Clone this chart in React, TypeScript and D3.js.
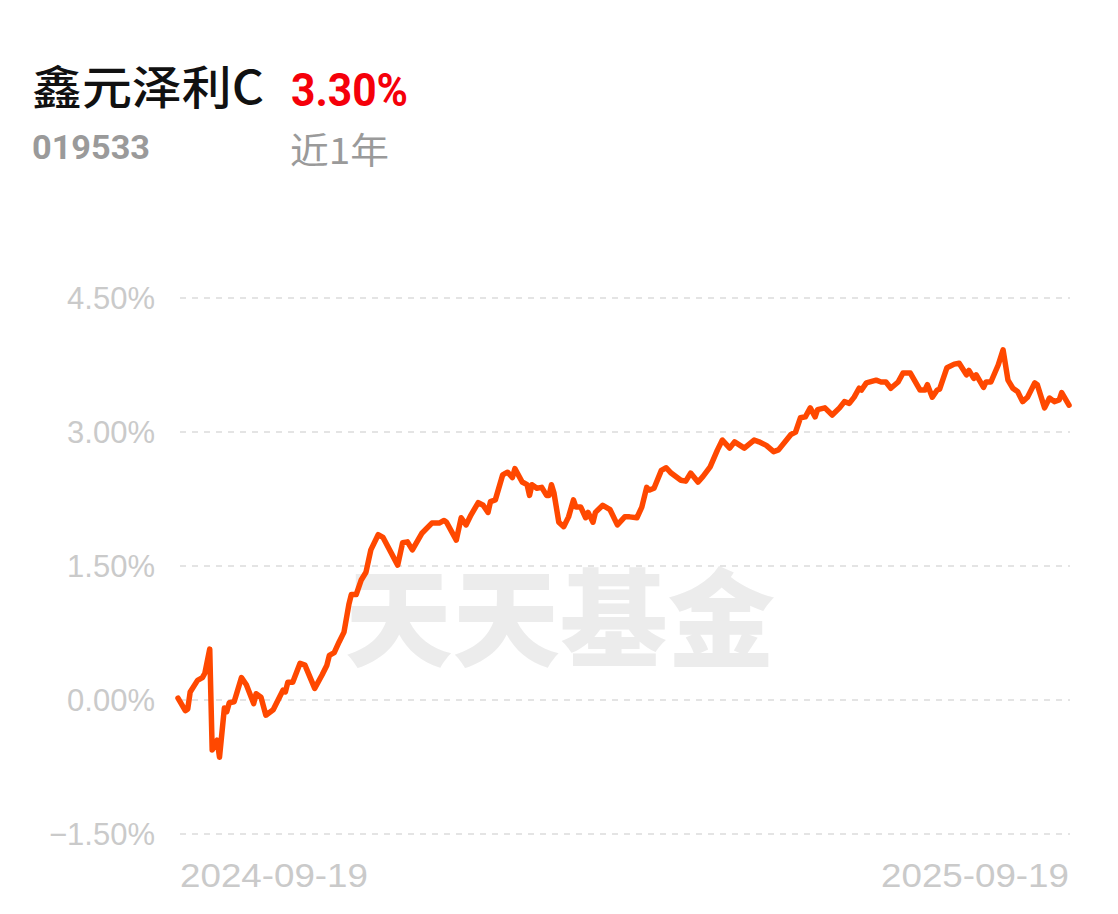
import React from "react";
import * as d3 from "d3";

const fundName = "鑫元泽利C";
const fundCode = "019533";
const periodReturn = "3.30%";
const periodLabel = "近1年";
const watermark = "天天基金";
const startDate = "2024-09-19";
const endDate = "2025-09-19";

const yTicks = [-1.5, 0, 1.5, 3, 4.5];

// day offsets from start date
const days = [
  0, 3, 4, 5, 8, 10, 11, 13, 14, 16, 17, 19, 20, 21, 23, 26, 28, 31, 32, 34, 36, 39,
  43, 44, 45, 47, 50, 52, 56, 59, 61, 62, 64, 66, 68, 70, 71, 73, 75, 77, 79, 82, 84,
  90, 92, 94, 96, 100, 104, 107, 109, 110, 114, 116, 118, 120, 123, 125, 127, 128, 130,
  133, 135, 137, 138, 141, 143, 144, 145, 147, 149, 151, 152, 153, 154, 156, 158, 160,
  162, 163, 165, 167, 168, 170, 171, 174, 177, 180, 183, 185, 188, 190, 192, 193, 195,
  198, 200, 202, 206, 208, 210, 213, 215, 218, 221, 223, 226, 228, 232, 236, 238, 241,
  244, 246, 251, 253, 255, 257, 259, 261, 262, 265, 268, 271, 273, 275, 277, 279, 280,
  282, 286, 288, 290, 292, 295, 297, 300, 304, 306, 307, 309, 311, 312, 315, 318, 320,
  323, 324, 326, 327, 330, 331, 333, 336, 338, 340, 342, 344, 346, 348, 351, 352, 355,
  357, 359, 361, 362, 365,
];

// cumulative return in %
const returns = [
  0.02, -0.12, -0.1, 0.09, 0.22, 0.25, 0.3, 0.57, -0.56, -0.45, -0.64, -0.09, -0.13,
  -0.03, -0.02, 0.25, 0.17, -0.04, 0.07, 0.03, -0.17, -0.11, 0.11, 0.09, 0.2, 0.2, 0.41,
  0.39, 0.13, 0.28, 0.39, 0.5, 0.53, 0.65, 0.76, 1.07, 1.18, 1.18, 1.34, 1.43, 1.68,
  1.85, 1.82, 1.51, 1.76, 1.77, 1.68, 1.87, 1.98, 1.98, 2.01, 1.99, 1.79, 2.04, 1.96,
  2.07, 2.21, 2.18, 2.1, 2.22, 2.24, 2.52, 2.55, 2.49, 2.59, 2.44, 2.41, 2.29, 2.41,
  2.37, 2.38, 2.29, 2.29, 2.41, 2.32, 1.99, 1.94, 2.05, 2.24, 2.16, 2.16, 2.04, 2.1,
  1.99, 2.1, 2.18, 2.13, 1.96, 2.05, 2.05, 2.04, 2.16, 2.38, 2.35, 2.37, 2.57, 2.6,
  2.54, 2.46, 2.45, 2.54, 2.44, 2.5, 2.61, 2.8, 2.91, 2.82, 2.89, 2.82, 2.91, 2.89,
  2.85, 2.78, 2.8, 2.97, 3.0, 3.16, 3.17, 3.27, 3.17, 3.25, 3.27, 3.19, 3.27, 3.34,
  3.32, 3.39, 3.49, 3.47, 3.55, 3.58, 3.56, 3.56, 3.49, 3.56, 3.66, 3.66, 3.47, 3.47,
  3.53, 3.39, 3.47, 3.48, 3.72, 3.76, 3.77, 3.64, 3.69, 3.6, 3.64, 3.5, 3.56, 3.56,
  3.75, 3.92, 3.58, 3.49, 3.45, 3.34, 3.39, 3.55, 3.53, 3.27, 3.38, 3.34, 3.36, 3.44,
  3.3,
];

const W = 1118;
const H = 914;

export default function App() {
  const x = d3.scaleLinear().domain([0, 365]).range([178, 1069]);
  const y = d3.scaleLinear().domain([-1.5, 4.5]).range([834, 298]);
  const pts = days.map((d, i) => [d, returns[i]] as [number, number]);
  const line = d3
    .line<[number, number]>()
    .x((d) => x(d[0]))
    .y((d) => y(d[1]))
    .curve(d3.curveLinear);

  const axisFont = "'Liberation Sans', Arial, sans-serif";
  const cjk = "'Noto Sans CJK SC', 'Noto Sans', sans-serif";

  return (
    <svg
      width={W}
      height={H}
      style={{ position: "absolute", left: 0, top: 0, background: "#fff" }}
    >
      <rect x={0} y={0} width={W} height={H} fill="#fff" />
      {/* header */}
      <text
        x={32}
        y={104}
        fontFamily={cjk}
        fontSize={46}
        fill="#111"
        fontWeight={500}
        textLength={232}
        lengthAdjust="spacingAndGlyphs"
      >
        {fundName}
      </text>
      <text
        x={291}
        y={106}
        fontFamily="Roboto, sans-serif"
        fontWeight={700}
        fontSize={47}
        fill="#f5000a"
        textLength={117}
        lengthAdjust="spacingAndGlyphs"
      >
        {periodReturn}
      </text>
      <text
        x={32}
        y={159}
        fontFamily="Roboto, sans-serif"
        fontWeight={700}
        fontSize={33}
        fill="#9a9a9a"
        textLength={118}
        lengthAdjust="spacingAndGlyphs"
      >
        {fundCode}
      </text>
      <text
        x={290}
        y={164}
        fontFamily={cjk}
        fontSize={36}
        fill="#9a9a9a"
        textLength={99}
        lengthAdjust="spacingAndGlyphs"
      >
        {periodLabel}
      </text>

      {/* watermark */}
      <text
        x={560}
        y={612}
        textAnchor="middle"
        dominantBaseline="central"
        fontFamily={cjk}
        fontWeight={900}
        fontSize={106}
        fill="#ececec"
        textLength={430}
        lengthAdjust="spacingAndGlyphs"
      >
        {watermark}
      </text>

      {/* grid + y labels */}
      {yTicks.map((t) => (
        <g key={t}>
          <line
            x1={180}
            x2={1070}
            y1={y(t)}
            y2={y(t)}
            stroke="#e4e4e4"
            strokeWidth={2}
            strokeDasharray="6,6"
          />
          <text
            x={155}
            y={y(t)}
            textAnchor="end"
            dominantBaseline="central"
            fontFamily={axisFont}
            fontSize={31}
            fill="#cacaca"
          >
            {d3.format(".2f")(t) + "%"}
          </text>
        </g>
      ))}

      {/* line */}
      <path
        d={line(pts) || ""}
        fill="none"
        stroke="#ff4800"
        strokeWidth={5.5}
        strokeLinejoin="round"
        strokeLinecap="round"
      />

      {/* x labels */}
      <text
        x={180}
        y={887}
        fontFamily={axisFont}
        fontSize={33}
        fill="#cacaca"
        textLength={188}
        lengthAdjust="spacingAndGlyphs"
      >
        {startDate}
      </text>
      <text
        x={1069}
        y={887}
        textAnchor="end"
        fontFamily={axisFont}
        fontSize={33}
        fill="#cacaca"
        textLength={188}
        lengthAdjust="spacingAndGlyphs"
      >
        {endDate}
      </text>
    </svg>
  );
}
